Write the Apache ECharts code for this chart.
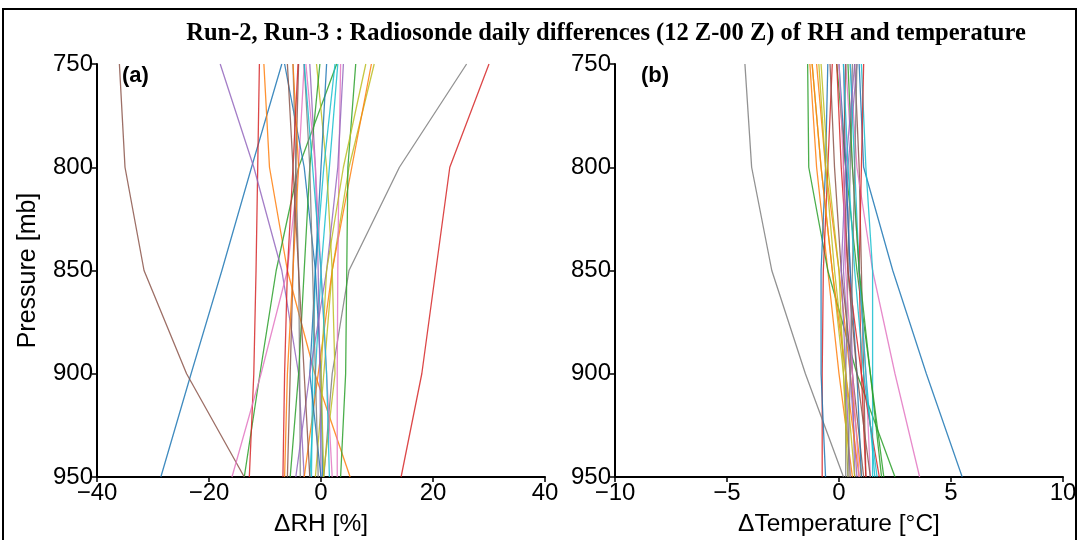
<!DOCTYPE html>
<html>
<head>
<meta charset="utf-8">
<script src="https://cdn.jsdelivr.net/npm/echarts@6/dist/echarts.min.js"></script>
<style>html,body{margin:0;padding:0;background:#fff}#c{width:1079px;height:540px}</style>
</head>
<body>
<div id="c"></div>
<script>
// ---- data ----
const pressureLevels = [750, 800, 850, 900, 950];
const pressureTicks = [750, 800, 850, 900, 950];
const rhTicks = [-40, -20, 0, 20, 40];
const tempTicks = [-10, -5, 0, 5, 10];

// ΔRH [%] per daily profile, values at 750, 800, 850, 900, 950 mb
const rhProfiles = [
  [-7, -12.4, -17.7, -23.2, -28.6],
  [-10.2, -9.2, -6, -1.1, 5.2],
  [2.8, -4, -8, -10.9, -13.7],
  [-11, -11.3, -11.6, -12, -12.8],
  [-18, -12, -7, -4, -3],
  [-36, -35, -31.6, -24, -13.7],
  [-3, -4, -6, -10.7, -15.9],
  [26, 14, 5, 2, 0.5],
  [9.5, 5, 2, 0.5, -1],
  [3, 1.5, 0, -1, -2],
  [-6.5, -3, -1, 0, 0.3],
  [9, 5.5, 2, -0.5, -3],
  [6.2, 4.8, 4.6, 4.4, 3.5],
  [30, 23, 20.5, 18, 14.3],
  [-2, -1, -0.5, -0.2, 0],
  [-4, -4.5, -5, -5.5, -6],
  [3.5, 3.2, 3, 2.9, 2.9],
  [-5, -4.5, -4, -3.8, -3.7],
  [-0.8, 1, 2, 2.5, 0.4],
  [2.5, 0.5, -1, -1.5, -1.7],
  [1, 0, -1, -2, 0],
  [-5, -4, -5, -6, -6.5],
  [-0.2, -2, -3, -4, -5.5],
  [-4.1, -5, -6, -6.5, -6.8],
  [4, 3, 1, -2, -4.5],
  [-6, -5, -4, -3, -2],
  [-2.7, -1, 0, 1, 2],
  [-3, -2, -1.5, -1, -0.5],
  [8, 4, 1, 0, 0.5],
  [-3, -1.5, 0, 1, 1.5]
];

// ΔTemperature [°C] per daily profile, values at 750, 800, 850, 900, 950 mb
const tempProfiles = [
  [0.9, 1.1, 2.4, 3.9, 5.5],
  [-1.3, -1.0, -0.5, 0, 0.6],
  [-1.4, -1.35, -0.5, 0.8, 2.5],
  [-0.3, -0.5, -0.7, -0.75, -0.75],
  [0.2, 0.3, 0.5, 0.6, 0.7],
  [0.7, 0.9, 1.0, 1.1, 1.2],
  [0.5, 0.8, 1.5, 2.5, 3.6],
  [-4.2, -3.9, -3.0, -1.5, 0.2],
  [-1.2, -0.8, -0.3, 0.2, 0.5],
  [1.0, 1.2, 1.5, 1.5, 1.5],
  [-0.5, -0.6, -0.8, -0.8, -0.6],
  [-1.0, -0.6, 0, 0.5, 1.0],
  [-0.1, 0.3, 0.8, 1.4, 2.0],
  [1.1, 1.0, 0.9, 1.0, 1.2],
  [0.8, 0.4, 0.2, 0.5, 0.8],
  [-0.4, -0.2, 0.1, 0.6, 1.1],
  [0.3, 0.6, 0.9, 1.2, 1.4],
  [0.6, 0.5, 0.4, 0.3, 0.3],
  [-0.8, -0.5, 0, 0.2, 0.4],
  [0.5, 0.7, 0.9, 1.2, 1.6],
  [0.0, 0.3, 0.5, 0.8, 1.0],
  [-1.2, -0.8, -0.3, 0.3, 0.9],
  [0.4, 0.6, 0.9, 1.4, 1.9],
  [-0.1, 0.1, 0.4, 1.0, 1.8],
  [0.7, 0.3, 0.1, 0.3, 0.5],
  [0.3, 0.2, 0.4, 0.8, 1.4],
  [0.0, 0.2, 0.3, 0.6, 0.9],
  [0.8, 0.7, 0.6, 0.5, 0.4],
  [-0.9, -0.6, -0.2, 0.3, 0.7],
  [0.2, 0.4, 0.7, 1.1, 1.7]
];

const titleText = 'Run-2, Run-3 : Radiosonde daily differences (12 Z-00 Z) of RH and temperature';

// ---- styles ----
const palette = ['#1f77b4','#ff7f0e','#2ca02c','#d62728','#9467bd','#8c564b','#e377c2','#7f7f7f','#bcbd22','#17becf'];
const FONT = 'Liberation Sans, Arial, sans-serif';
const minusFmt = v => String(v).replace('-', '\u2212');

function xAxisFor(ticks, gridIndex, name) {
  return {
    type: 'value', gridIndex,
    min: ticks[0], max: ticks[ticks.length - 1], interval: ticks[1] - ticks[0],
    name, nameLocation: 'middle', nameGap: 35,
    nameTextStyle: { fontFamily: FONT, fontSize: 24.5, color: '#000' },
    axisLine: { onZero: false, lineStyle: { color: '#000', width: 2 } },
    axisTick: { show: true, length: 5, lineStyle: { color: '#000', width: 1.5 } },
    axisLabel: { fontFamily: FONT, fontSize: 24, color: '#000', margin: 4, formatter: minusFmt },
    splitLine: { show: false }
  };
}
function yAxisFor(gridIndex, name) {
  return {
    type: 'value', gridIndex, inverse: true,
    min: pressureTicks[0], max: pressureTicks[pressureTicks.length - 1],
    interval: pressureTicks[1] - pressureTicks[0],
    name, nameLocation: 'middle', nameGap: 56, nameRotate: 90,
    nameTextStyle: { fontFamily: FONT, fontSize: 25, color: '#000' },
    axisLine: { onZero: false, lineStyle: { color: '#000', width: 2 } },
    axisTick: { show: true, length: 5, lineStyle: { color: '#000', width: 1.5 } },
    axisLabel: { fontFamily: FONT, fontSize: 24, color: '#000', margin: 4 },
    splitLine: { show: false }
  };
}

const series = [];
rhProfiles.forEach((prof, i) => {
  series.push({
    type: 'line', xAxisIndex: 0, yAxisIndex: 0, showSymbol: false, silent: true,
    data: prof.map((v, k) => [v, pressureLevels[k]]),
    lineStyle: { width: 1.3, color: palette[i % 10], opacity: 0.85 },
    itemStyle: { color: palette[i % 10] }
  });
});
tempProfiles.forEach((prof, i) => {
  series.push({
    type: 'line', xAxisIndex: 1, yAxisIndex: 1, showSymbol: false, silent: true,
    data: prof.map((v, k) => [v, pressureLevels[k]]),
    lineStyle: { width: 1.3, color: palette[i % 10], opacity: 0.85 },
    itemStyle: { color: palette[i % 10] }
  });
});

const chart = echarts.init(document.getElementById('c'), null, { renderer: 'canvas' });
chart.setOption({
  animation: false,
  backgroundColor: '#fff',
  title: {
    text: titleText, left: 601, top: 16, textAlign: 'center',
    textStyle: { fontFamily: 'Liberation Serif, Times New Roman, serif', fontWeight: 'bold', fontSize: 24.5, color: '#000' }
  },
  grid: [
    { left: 97, top: 64, width: 448, height: 413, outerBoundsMode: 'none', containLabel: false },
    { left: 615, top: 64, width: 448, height: 413, outerBoundsMode: 'none', containLabel: false }
  ],
  xAxis: [xAxisFor(rhTicks, 0, '\u0394RH [%]'), xAxisFor(tempTicks, 1, '\u0394Temperature [\u00b0C]')],
  yAxis: [yAxisFor(0, 'Pressure [mb]'), yAxisFor(1, '')],
  series,
  graphic: [
    { type: 'rect', shape: { x: 3, y: 9, width: 1073, height: 540 }, style: { fill: 'none', stroke: '#000', lineWidth: 2 }, silent: true },
    { type: 'text', left: 122, top: 65, style: { text: '(a)', font: 'bold 22px ' + FONT, fill: '#000' } },
    { type: 'text', left: 641, top: 65, style: { text: '(b)', font: 'bold 22px ' + FONT, fill: '#000' } }
  ]
});
</script>
</body>
</html>
